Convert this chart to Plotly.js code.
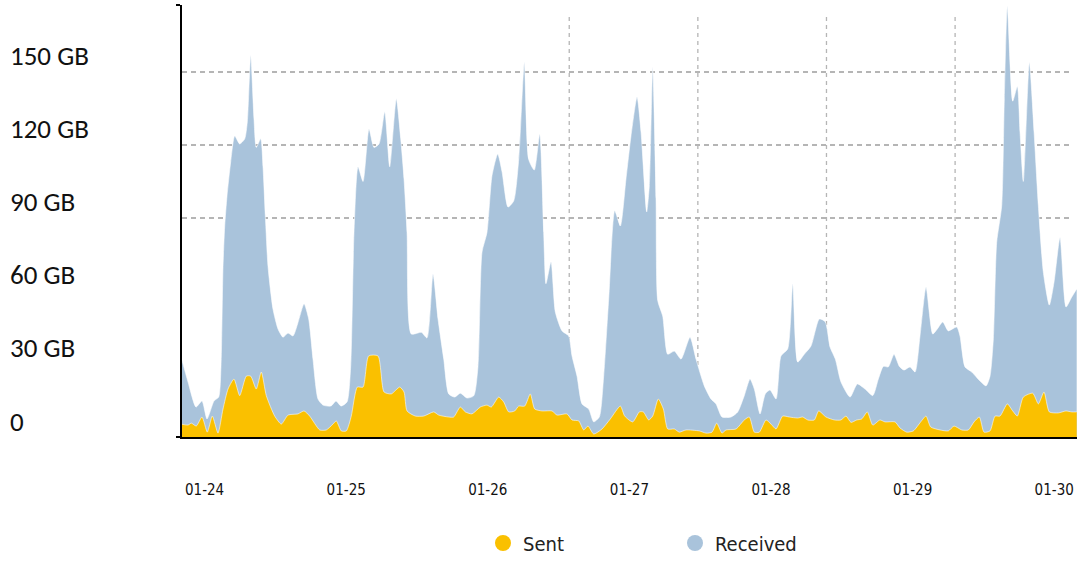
<!DOCTYPE html>
<html>
<head>
<meta charset="utf-8">
<script src="https://cdn.plot.ly/plotly-3.0.1.min.js"></script>
<style>html,body{margin:0;padding:0;background:#fff;}#chart{width:1081px;height:561px;}</style>
</head>
<body>
<div id="chart"></div>
<script>
// hours after 2024-01-23 20:00 (UTC)
const startTime = Date.UTC(2024, 0, 23, 20, 0, 0);

const recvHours = [0,1.19,2.54,3.56,4.41,5.59,6.39,6.78,7.12,7.41,
  7.80,8.42,9.10,9.95,10.80,11.24,11.81,12.37,12.76,13.51,
  13.90,14.29,14.75,15.59,16.44,17.29,18.14,18.98,19.83,20.85,
  21.64,22.37,23.22,24.07,25.42,26.27,27.12,28.14,28.76,29.32,
  30.0,30.85,31.86,32.71,33.56,34.53,35.37,36.49,37.24,37.80,
  38.31,39.03,40.73,41.69,42.71,43.56,44.53,45.37,46.39,47.34,
  48.47,49.61,50.34,51.02,51.86,52.71,53.68,54.41,55.42,56.39,
  57.24,58.19,58.93,59.88,60.80,61.47,61.86,62.71,63.44,64.58,
  65.71,66.27,67.12,67.97,69.10,69.95,70.90,71.64,72.49,73.51,
  74.46,75.42,76.27,77.29,77.97,78.93,79.37,79.95,80.51,80.80,
  81.64,82.49,83.61,84.75,86.27,87.29,88.69,89.83,90.68,91.69,
  93.22,94.36,95.47,96.44,97.17,98.14,99.03,99.83,100.85,101.69,
  102.83,103.68,104.53,105.64,106.78,108.19,109.20,110.0,110.90,111.86,
  113.4,114.63,115.93,117.24,118.19,119.03,119.88,120.85,121.75,122.54,
  123.56,124.41,125.25,126.27,127.41,128.19,129.10,130.05,131.47,132.03,
  132.88,134.02,135.42,136.44,137.12,137.68,138.25,139.10,139.54,140.05,
  140.97,141.75,142.20,142.76,143.78,144.58,145.31,146.15,147.17,147.97,
  148.98,150.0,150.97,151.81];

const received = [33,22.6,12.3,14.8,7.4,14.8,16.4,29,70,86.7,
  99,113,123.7,120.4,122.5,129.5,157,130.7,119,122.5,
  111,91,70,52.6,44.4,41,42.7,41.5,47,54.7,
  48.5,32,15.6,13.1,12.7,14.8,12.7,14.4,29,84,
  111,105,126.6,119,120.4,133.6,111,139,122.5,106,
  84,42.3,43,40.7,67,48.5,32,17.7,16.4,18,
  16,16.9,29,76,84,107.4,116.3,109,94.5,97,
  114,154,114,109.7,124.5,84,63,72,51.4,43.6,
  41.5,33.3,25,13.6,11.5,6.2,8.2,25,56.7,93,
  86.7,106,123.7,139.7,125.3,92.5,103,152,97.8,56,
  49.7,34,35.3,32,41,32,21,15.6,13.6,8.2,
  8.2,10.3,17,23.8,19.7,9.5,17.7,19.3,15.6,33.3,
  36.2,63,30.8,34,37.4,48.5,47.3,37,32,22.6,
  16.4,21.8,19.7,17,23.8,29,28.8,34,29,27.5,
  28.8,26.7,41.5,61.6,42.3,44.4,47.3,43.6,45.2,41.5,
  28.8,26.7,23,21,25,40.3,80,95,139,177,
  138,144,125.3,105,154,125.3,95,67.8,54.2,63.7,
  82,53.4,57.5,60.8];

const sentHours = [0,1.19,1.75,2.59,3.56,4.46,5.31,6.27,7.12,7.97,
  8.98,9.95,11.07,11.81,12.76,13.61,14.46,15.88,17.0,18.14,
  19.83,20.85,21.81,23.51,24.63,25.76,26.32,27.17,28.02,28.86,
  29.88,30.85,31.81,33.39,34.41,35.64,37.07,37.80,38.31,39.71,
  41.14,42.83,43.68,45.37,46.22,47.34,48.19,49.32,50.73,51.86,
  52.59,53.85,54.69,55.54,56.56,57.24,58.25,59.20,59.95,61.19,
  62.88,63.73,65.42,66.27,67.41,68.25,68.98,69.95,71.36,72.76,
  74.46,75.20,76.56,77.68,78.36,79.27,79.95,80.90,81.75,
  82.49,83.61,84.46,85.59,87.85,88.98,90.0,90.80,91.69,92.37,
  94.07,95.47,96.32,97.17,98.02,99.15,100.0,100.85,101.98,103.10,
  104.53,105.37,106.22,107.34,108.08,109.32,110.73,111.86,112.71,113.56,
  114.53,115.37,116.32,117.24,118.47,119.32,121.02,121.86,123.0,124.12,
  125.37,126.27,127.07,128.64,130.05,131.02,132.32,133.44,134.41,135.31,
  136.10,137.12,137.97,138.81,140.05,140.97,141.75,142.76,144.36,145.31,
  146.27,147.17,148.69,150.0,150.97,151.81];

const sent = [5.3,4.9,5.7,4.5,8.2,2,8.6,1.6,11.5,19.7,
  23.8,17,25,25,19.7,26.7,17,8.6,5.3,9,
  9.5,10.7,8.6,2.9,2.9,5.3,6.6,2.5,2.5,8.6,
  20.5,20.5,33.3,33.3,18.5,17.7,20.5,18.5,10.7,8.6,
  8.6,10.3,9,8.2,8.2,12.3,10.3,9.5,12.3,13.1,
  12.3,16.4,14.4,10.3,10.7,12.7,12.7,17.7,11.5,10.7,
  10.7,9,9.5,7,6.6,2.9,4.5,1.2,3.3,7.4,
  12.7,8.6,6.2,10.3,10.3,7,8.6,15.6,11.5,
  3.3,3.3,2,2.9,2.5,1.6,2,5.7,1.6,2.9,
  3.3,7,8.2,2,2,7,5.3,3.3,8.6,8.2,
  7.8,8.2,7,7,10.7,8.2,7,7,8.6,6,
  7,7.4,10.3,4.9,7,6.2,6.2,3.7,2,2.5,
  6.2,8.6,4.1,2.9,2.5,4.5,2.9,2.9,6.2,8.2,
  2,2.5,8.6,8.6,13.6,10.7,8.6,16.4,18,13.6,
  18.5,10.3,9.9,10.7,10.3,10.3];

const seriesNames = ['Sent', 'Received'];
const seriesColors = ['#fac000', '#a9c3db'];
const yTickValues = [0, 30, 60, 90, 120, 150];
const yTickLabels = ['0', '30 GB', '60 GB', '90 GB', '120 GB', '150 GB'];
const hGridValues = [90, 120, 150];
const vGridHours = [65.8, 87.6, 109.4, 131.2];
const yMax = 177.5;
const xRangeHours = [0.17, 151.86];

const toDate = h => new Date(startTime + h * 3600000).toISOString().replace('T', ' ').slice(0, 19);

const condensed = 'DejaVu Sans Condensed, Liberation Sans Narrow, sans-serif';

const traces = [
  {
    x: recvHours.map(toDate), y: received, type: 'scatter', mode: 'lines',
    fill: 'tozeroy', fillcolor: seriesColors[1],
    line: {color: 'rgba(255,255,255,0.55)', width: 1, shape: 'spline', smoothing: 0.6},
    showlegend: false, hoverinfo: 'skip'
  },
  {
    x: sentHours.map(toDate), y: sent, type: 'scatter', mode: 'lines',
    fill: 'tozeroy', fillcolor: seriesColors[0],
    line: {color: 'rgba(255,255,255,0.55)', width: 1, shape: 'spline', smoothing: 0.6},
    showlegend: false, hoverinfo: 'skip'
  },
  {x: [null], y: [null], type: 'scatter', mode: 'markers', name: seriesNames[0],
   marker: {color: seriesColors[0], size: 18, symbol: 'circle'}},
  {x: [null], y: [null], type: 'scatter', mode: 'markers', name: seriesNames[1],
   marker: {color: seriesColors[1], size: 18, symbol: 'circle'}}
];

const shapes = [];
hGridValues.forEach(v => shapes.push({
  type: 'line', xref: 'paper', x0: 0, x1: 0.995, yref: 'y', y0: v, y1: v,
  line: {color: '#b5b5b5', width: 2, dash: '5px,4px'}, layer: 'below'
}));
vGridHours.forEach(h => shapes.push({
  type: 'line', xref: 'x', x0: toDate(h), x1: toDate(h), yref: 'y', y0: 0, y1: 174,
  line: {color: '#b5b5b5', width: 1.3, dash: '4px,4px'}, layer: 'below'
}));

const annotations = yTickValues.map((v, i) => ({
  xref: 'paper', yref: 'y', x: -174 / 895, y: v, yshift: 16,
  xanchor: 'left', yanchor: 'middle', showarrow: false,
  text: yTickLabels[i],
  font: {family: 'Carlito, Open Sans, sans-serif', size: 27, color: '#111'}
}));

const layout = {
  width: 1081, height: 561,
  margin: {l: 182, r: 4, t: 5, b: 124, autoexpand: false},
  paper_bgcolor: '#ffffff', plot_bgcolor: '#ffffff',
  xaxis: {
    type: 'date', range: xRangeHours.map(toDate),
    showgrid: false, zeroline: false,
    showline: true, linecolor: '#000', linewidth: 2,
    ticks: '', tickformat: '%m-%d', dtick: 86400000, tick0: '2024-01-24 00:00:00',
    tickfont: {family: condensed, size: 15, color: '#111'},
    ticklabelstandoff: 38, fixedrange: true
  },
  yaxis: {
    range: [0, yMax], showgrid: false, zeroline: false,
    showline: true, linecolor: '#000', linewidth: 2,
    ticks: 'outside', ticklen: 4, tickwidth: 2, tickcolor: '#000',
    tickmode: 'array', tickvals: [0, yMax], showticklabels: false, fixedrange: true
  },
  shapes: shapes,
  annotations: annotations,
  showlegend: true,
  legend: {
    orientation: 'h', x: 301 / 895, xanchor: 'left', y: -106 / 432, yanchor: 'middle',
    entrywidth: 147, entrywidthmode: 'pixels', itemwidth: 30,
    font: {family: condensed, size: 20, color: '#222'}, bgcolor: 'rgba(0,0,0,0)'
  }
};

Plotly.newPlot('chart', traces, layout, {displayModeBar: false, staticPlot: true});
</script>
</body>
</html>
